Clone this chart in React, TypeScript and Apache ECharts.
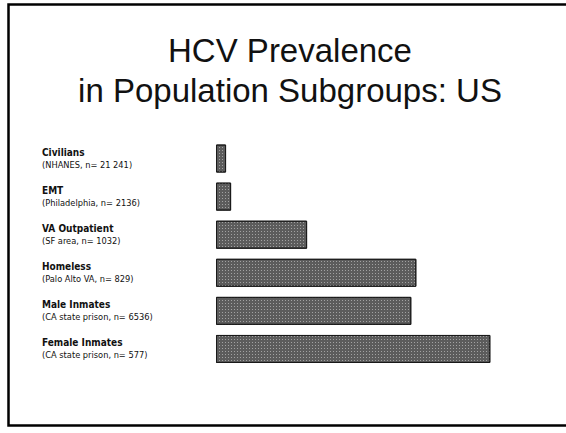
import React, { useEffect, useRef } from "react";
import * as echarts from "echarts";

const groups = ["Civilians", "EMT", "VA Outpatient", "Homeless", "Male Inmates", "Female Inmates"];
const sources = [
  "(NHANES, n= 21 241)",
  "(Philadelphia, n= 2136)",
  "(SF area, n= 1032)",
  "(Palo Alto VA, n= 829)",
  "(CA state prison, n= 6536)",
  "(CA state prison, n= 577)",
];
const prevalence = [2.0, 3.0, 18.1, 39.8, 38.8, 54.5];
const titleLines = ["HCV Prevalence", "in Population Subgroups: US"];

export default function App() {
  const ref = useRef<HTMLDivElement>(null);
  useEffect(() => {
    if (!ref.current) return;
    const chart = echarts.init(ref.current, null, { renderer: "svg" });
    chart.setOption({
      animation: false,
      backgroundColor: "#ffffff",
      title: {
        text: titleLines.join("\n"),
        left: 285,
        textAlign: "center",
        top: 25,
        textStyle: {
          fontFamily: "'Liberation Sans', Arial, sans-serif",
          fontSize: 33,
          fontWeight: "normal",
          lineHeight: 40,
          color: "#111111",
        },
      },
      graphic: [
        {
          type: "polyline",
          shape: { points: [[566, 4.5], [8.5, 4.5], [8.5, 425.5], [566, 425.5]] },
          style: { fill: "none", stroke: "#000000", lineWidth: 2.5 },
          silent: true,
        },
      ],
      grid: { left: 216, right: 48, top: 139.5, bottom: 65, containLabel: false },
      xAxis: {
        type: "value",
        min: 0,
        max: 60,
        show: false,
      },
      yAxis: {
        type: "category",
        data: groups,
        inverse: true,
        axisLine: { show: false },
        axisTick: { show: false },
        splitLine: { show: false },
        axisLabel: {
          align: "left",
          margin: 174,
          formatter: (v: string) => {
            const i = groups.indexOf(v);
            return `{b|${v}}\n{n|${sources[i]}}`;
          },
          rich: {
            b: {
              fontFamily: "'DejaVu Sans Condensed', 'DejaVu Sans', sans-serif",
              fontWeight: "bold",
              fontSize: 10,
              lineHeight: 12,
              color: "#111",
            },
            n: {
              fontFamily: "'DejaVu Sans Condensed', 'DejaVu Sans', sans-serif",
              fontSize: 9.2,
              lineHeight: 12,
              color: "#111",
            },
          },
        },
      },
      series: [
        {
          type: "bar",
          data: prevalence,
          barWidth: 28,
          itemStyle: {
            color: "#5c5c5c",
            borderColor: "#1a1a1a",
            borderWidth: 1,
            decal: {
              symbol: "rect",
              symbolSize: 1,
              color: "rgba(220,220,220,0.55)",
              dashArrayX: [1, 2],
              dashArrayY: [1, 2],
              rotation: 0,
            },
          },
        },
      ],
    });
    return () => chart.dispose();
  }, []);
  return <div ref={ref} style={{ width: 566, height: 433, position: "absolute", left: 0, top: 0 }} />;
}
